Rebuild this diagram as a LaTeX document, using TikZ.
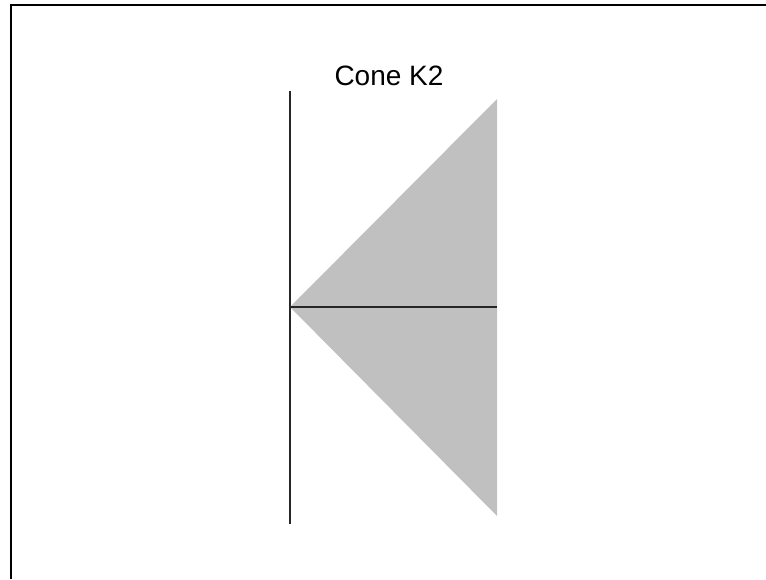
\documentclass[tikz,border=0pt]{standalone}
\usepackage{fontspec}
\setmainfont{Liberation Sans}
\definecolor{coneK}{RGB}{192,192,192}
\newcommand{\AX}{290}
\newcommand{\AY}{307}
\newcommand{\RX}{497}

\begin{document}
\begin{tikzpicture}[x=1pt, y=-1pt,
    frame/.style={draw=black, line width=2.3pt},
    axis/.style={draw=black!85, line width=1.3pt},
    cone/.style={fill=coneK, draw=none},
    title/.style={font=\fontsize{28}{34}\selectfont, anchor=base},
  ]
  \useasboundingbox (0,0) rectangle (766,579);

  % frame on the top and left side only
  \draw[frame] (11,579) -- (11,5) -- (766,5);

  % apex and the two generating rays
  \coordinate (apex) at (\AX,\AY);
  \coordinate (up)   at (\RX,99);
  \coordinate (dn)   at (\RX,516);
  \fill[cone] (apex) -- (up) -- (dn) -- cycle;

  % axes
  \coordinate (ytop) at (\AX,91);
  \coordinate (ybot) at (\AX,524);
  \coordinate (xend) at (\RX,\AY);
  \draw[axis] (ytop) -- (ybot);
  \draw[axis] (apex) -- (xend);

  \node[title] (ttl) at (389,85) {Cone K2};

\end{tikzpicture}
\end{document}
